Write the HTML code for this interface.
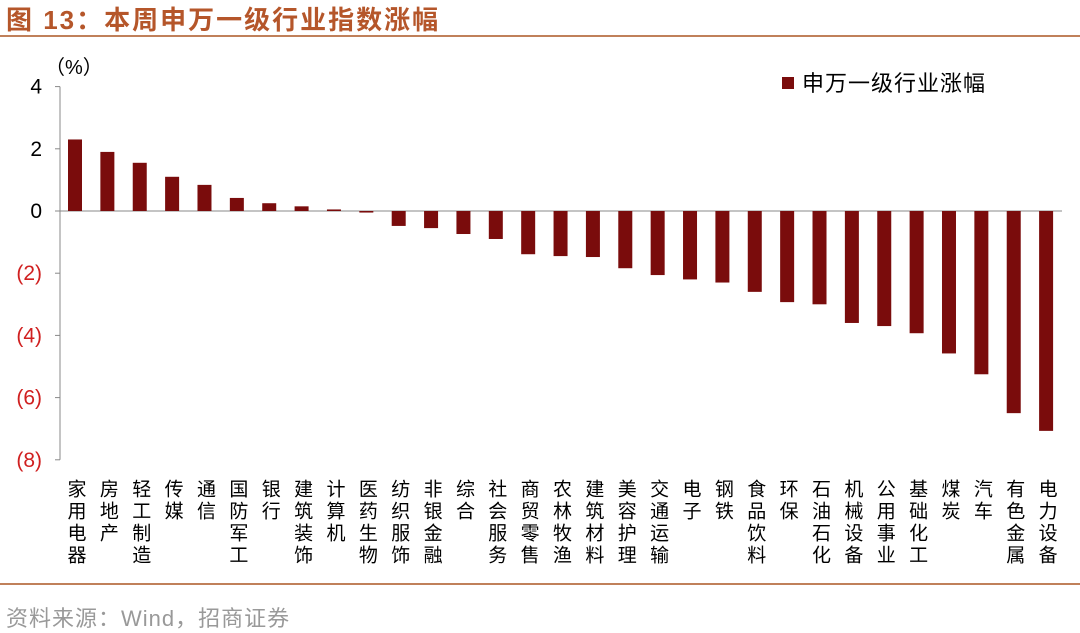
<!DOCTYPE html>
<html><head><meta charset="utf-8"><style>
body{margin:0;background:#fff;width:1080px;height:633px;overflow:hidden;font-family:"Liberation Sans","Noto Sans CJK SC",sans-serif}
</style></head><body>
<div style="position:absolute;left:6px;top:0px;font-size:26px;font-weight:bold;color:#b5562a;letter-spacing:2px;">图 13：本周申万一级行业指数涨幅</div>
<div style="position:absolute;left:0;top:35px;width:1080px;height:2px;background:#c0805a"></div>
<div style="position:absolute;left:0;top:583px;width:1080px;height:2px;background:#c0805a"></div>
<div style="position:absolute;left:6px;top:601px;font-size:22px;color:#999;letter-spacing:1px">资料来源：Wind，招商证券</div>
<svg id="c" width="1080" height="633" style="position:absolute;left:0;top:0"></svg>
<script>
const categories=["家用电器","房地产","轻工制造","传媒","通信","国防军工","银行","建筑装饰","计算机","医药生物","纺织服饰","非银金融","综合","社会服务","商贸零售","农林牧渔","建筑材料","美容护理","交通运输","电子","钢铁","食品饮料","环保","石油石化","机械设备","公用事业","基础化工","煤炭","汽车","有色金属","电力设备"];
const values=[2.3,1.9,1.55,1.1,0.84,0.42,0.25,0.15,0.05,-0.05,-0.48,-0.55,-0.74,-0.9,-1.39,-1.45,-1.48,-1.84,-2.06,-2.2,-2.3,-2.6,-2.93,-3.0,-3.6,-3.7,-3.93,-4.58,-5.25,-6.5,-7.07];
const ticks=[4,2,0,-2,-4,-6,-8];
const tickLabels=["4","2","0","(2)","(4)","(6)","(8)"];
const svg=document.getElementById('c');const NS='http://www.w3.org/2000/svg';
const y=v=>211-v*31.1;const x=i=>75+i*32.37;
function mk(t,a,p){const e=document.createElementNS(NS,t);for(const k in a)e.setAttribute(k,a[k]);(p||svg).appendChild(e);return e;}
let ax=mk('line',{x1:60,y1:y(4),x2:60,y2:y(-8),stroke:'#888'});


ticks.forEach((t,i)=>{
 let l=mk('line',{x1:55,x2:60,y1:y(t),y2:y(t),stroke:'#888'});
 
 
 let tx=mk('text',{x:42,y:y(t)+7,'text-anchor':'end','font-size':21,fill:t<0?'#d02020':'#000'});tx.textContent=tickLabels[i];
 
 
});
let u=mk('text',{x:45,y:74,'font-size':20,fill:'#000'});u.textContent='（%）';


let z=mk('line',{x1:60,x2:1062,y1:y(0),y2:y(0),stroke:'#888'});


values.forEach((v,i)=>{
 const top=Math.min(y(v),y(0)),h=Math.abs(y(v)-y(0));
 let r=mk('rect',{x:x(i)-7,y:top,width:14,height:Math.max(h,1),fill:'#7a0c0c'});
 
 
 let t=mk('text',{x:x(i),y:479,'font-size':19,fill:'#000','writing-mode':'tb','glyph-orientation-vertical':0,'letter-spacing':3});
 t.textContent=categories[i];
 
 
});
let lg=mk('rect',{x:782,y:77,width:12,height:12,fill:'#7a0c0c'});


let lt=mk('text',{x:802,y:91,'font-size':22,fill:'#000','letter-spacing':1});lt.textContent='申万一级行业涨幅';


</script>
</body></html>
